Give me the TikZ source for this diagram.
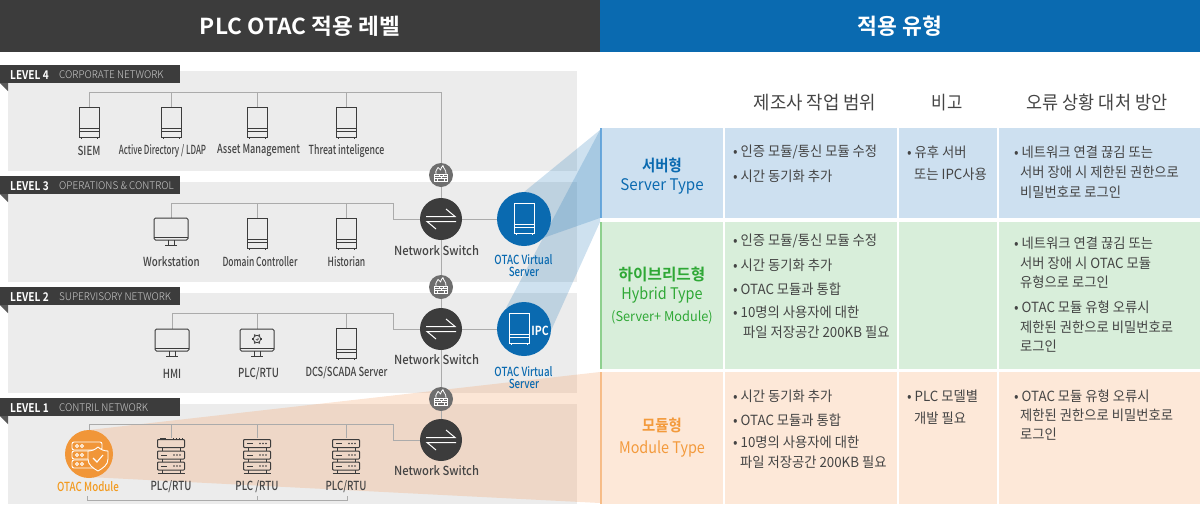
\documentclass[tikz,border=0pt]{standalone}
\usepackage{fontspec}
\usepackage{graphicx}
\newfontfamily\kr[FakeStretch=0.9,BoldFont={Noto Sans CJK KR Bold}]{Noto Sans CJK KR}
\newfontfamily\krc[FakeStretch=0.95]{Noto Sans CJK KR}
\newfontfamily\krh[BoldFont={Noto Sans CJK KR Bold}]{Noto Sans CJK KR}
\newfontfamily\lab[FakeStretch=0.78]{Noto Sans CJK KR Medium}
\newfontfamily\labb[FakeStretch=0.84]{Noto Sans CJK KR Bold}
\newfontfamily\thin[FakeStretch=0.95]{Noto Sans CJK KR Light}
\newcommand\nx[2]{\scalebox{#1}[1]{#2}}
\usetikzlibrary{calc}
\definecolor{dark}{HTML}{3C3C3C}
\definecolor{hblue}{HTML}{0A6AB0}
\definecolor{band}{HTML}{ECECEC}
\definecolor{txt}{HTML}{444444}
\definecolor{pblue}{HTML}{CDE0F0}
\definecolor{pgreen}{HTML}{D8EEDA}
\definecolor{porange}{HTML}{FDE8D8}
\definecolor{barblue}{HTML}{6AA8DC}
\definecolor{bargreen}{HTML}{8ED08E}
\definecolor{barorange}{HTML}{F7BD88}
\definecolor{tgreen}{HTML}{2FA836}
\definecolor{torange}{HTML}{F39A3C}
\definecolor{tmod}{HTML}{F39A1E}
\definecolor{modorange}{HTML}{F19638}
\definecolor{wedgeo}{HTML}{F59A5A}
\definecolor{fwgray}{HTML}{6E6E6E}
\definecolor{linkgray}{HTML}{ABABAB}
\tikzset{
  link/.style={draw=linkgray,line width=.8pt},
  lbl/.style={font=\lab\fontsize{12.5}{14}\selectfont,text=txt,inner sep=0pt,anchor=center,align=center,yshift=-.8pt},
  cell/.style={font=\krc\fontsize{14}{16}\selectfont,text=txt,inner sep=0pt,anchor=west,yshift=-1.3pt},
  headr/.style={font=\kr\fontsize{18.5}{20}\selectfont,text=txt,inner sep=0pt,yshift=-1pt},
  rowh/.style={inner sep=0pt,yshift=-1.3pt},
  ttl/.style={font=\krh\bfseries\fontsize{22}{24}\selectfont,text=white,inner sep=0pt},
  lvl/.style={font=\labb\fontsize{12}{13}\selectfont,text=white,inner sep=0pt,anchor=west},
  lvs/.style={font=\thin\fontsize{10.5}{12}\selectfont,text=black!20,inner sep=0pt,anchor=west},
  band/.style={fill=band,draw=none},
  tag/.style={fill=dark,draw=none},
  ikon/.style={draw=dark,line width=1pt,line join=round},
  pics/serverico/.style={code={
    \draw[#1,line width=1pt] (-10,-16) rectangle (10,14);
    \draw[#1,line width=1pt] (-10,5) -- (10,5) (-10,8) -- (10,8);
    \draw[#1,line width=1pt] (-8,14) -- (-8,16) (8,14) -- (8,16);
  }},
  pics/monitor/.style={code={
    \draw[ikon,rounded corners=1.5pt] (-17,-14) rectangle (17,8);
    \draw[ikon] (-17,5) -- (17,5) (-3,8) -- (-3,13) (3,8) -- (3,13) (-6,13) -- (6,13);
  }},
  pics/rackunit/.style={code={
    \draw[ikon,rounded corners=.8pt] (-13.5,-4) rectangle (13.5,4);
    \draw[ikon] (-10,0) -- (-4,0);
    \foreach \k in {3,6,9}{\fill[dark] (\k,0) circle (.8pt);}
  }},
  pics/rackblank/.style={code={
    \draw[ikon,rounded corners=.8pt] (-13.5,-4) rectangle (13.5,4);
    \draw[ikon,line width=1.2pt] (-11,-5) -- (-5,-5);
    \foreach \k in {2,5,8,11}{\draw[ikon] (\k,-4) -- (\k,-5.5);}
  }},
  pics/racklegs/.style={code={
    \draw[ikon] (-9,-7.5) -- (-9,-4) (9,-7.5) -- (9,-4) (-9,4) -- (-9,7) (9,4) -- (9,7) (-9,15) -- (-9,18) (9,15) -- (9,18) (-13.5,18) -- (13.5,18);
  }},
  pics/rack/.style={code={
    \pic at (0,-11.5) {rackunit};
    \pic at (0,0) {rackunit};
    \pic at (0,11) {rackunit};
    \pic {racklegs};
  }},
  pics/racktop/.style={code={
    \pic at (0,-11.5) {rackblank};
    \pic at (0,0) {rackunit};
    \pic at (0,11) {rackunit};
    \pic {racklegs};
  }},
  pics/swico/.style={code={
    \fill[dark] (0,0) circle (21);
    \draw[white,line width=1pt] (-15,-2.5) -- (14,-2.5) -- (5,-10);
    \draw[white,line width=1pt] (15,2.5) -- (-14,2.5) -- (-5,10);
  }},
  pics/fwico/.style={code={
    \fill[fwgray] (0,0) circle (12);
    \draw[white,line width=.8pt] (-6.5,-1) rectangle (6.5,6);
    \draw[white,line width=.6pt] (-6.5,1.3) -- (6.5,1.3) (-6.5,3.7) -- (6.5,3.7) (-2,-1) -- (-2,1.3) (2.5,-1) -- (2.5,1.3) (0,1.3) -- (0,3.7) (-3.5,3.7) -- (-3.5,6) (3.5,3.7) -- (3.5,6);
    \draw[white,line width=.8pt,line join=round] (-5,-1) .. controls (-6,-5) and (-3.5,-5) .. (-3,-7.5) .. controls (-1.5,-6.5) and (-1,-5.5) .. (-.5,-5) .. controls (0,-7) and (1,-8.5) .. (2,-9.5) .. controls (2,-7) and (5.5,-5) .. (5,-1);
  }},
}
\newcommand\swt[3]{\node[circle,inner sep=0pt,minimum size=42pt] (#1) at (#2,#3) {};}
\newcommand\fwl[3]{\node[circle,inner sep=0pt,minimum size=24pt] (#1) at (#2,#3) {};}
\newcommand\tcell[4]{\node[cell] (#1) at (#2,#3) {#4};}
\begin{document}
\begin{tikzpicture}[x=1pt,y=-1pt]
\useasboundingbox (0,0) rectangle (1200,504);
% headers
\fill[dark] (0,0) rectangle (600,52);
\fill[hblue] (600,0) rectangle (1200,52);
\node[ttl] (t1) at (300,26) {\nx{1.03}{PLC OTAC 적용 레벨}};
\node[ttl] (t2) at (900,26) {\nx{.98}{적용 유형}};
% bands
\foreach \a/\b in {71/171,182/282,293/393,404/504}{\fill[band] (8,\a) rectangle (577,\b);}
% panels
\foreach \c/\l/\r in {pblue/128/218,pgreen/222/369,porange/372/504}{
  \fill[\c] (600,\l) rectangle (723,\r);
  \fill[\c] (724.5,\l) rectangle (897,\r);
  \fill[\c] (898.5,\l) rectangle (997,\r);
  \fill[\c] (998.5,\l) rectangle (1200,\r);
}
\fill[barblue] (600,128) rectangle (602,218);
\fill[bargreen] (600,222) rectangle (602,369);
\fill[barorange] (600,372) rectangle (602,504);
% level tags
\foreach \y/\m/\s in {65/LEVEL 4/CORPORATE NETWORK,176/LEVEL 3/OPERATIONS \& CONTROL,287/LEVEL 2/SUPERVISORY NETWORK,398/LEVEL 1/CONTRIL NETWORK}{
  \fill[tag] (0,\y) rectangle (180,\y+18);
  \fill[black!65] (0,\y+18) -- (8,\y+18) -- (8,\y+26) -- cycle;
  \node[lvl] at (10,\y+10) {\m};
  \node[lvs] at (59,\y+10) {\s};
}
% wedges
\fill[hblue,fill opacity=.2] (600,130) -- (600,218) -- (543,238) -- (524,192) -- cycle;
\fill[hblue,fill opacity=.2] (600,130) -- (600,222) -- (549,335) -- (506,308) -- cycle;
\fill[wedgeo,fill opacity=.25] (600,372) -- (600,503) -- (89,477) -- (89,430) -- cycle;
% anchor nodes
\coordinate (b4) at (441,92);
\coordinate (b3) at (393,203);
\coordinate (b2) at (393,313);
\coordinate (b1) at (393,424);
\coordinate (bb) at (347,500);
\node[inner sep=0pt,minimum width=21pt,minimum height=32pt] (siem) at (89,123) {};
\node[inner sep=0pt,minimum width=21pt,minimum height=32pt] (ad) at (171,123) {};
\node[inner sep=0pt,minimum width=21pt,minimum height=32pt] (am) at (257,123) {};
\node[inner sep=0pt,minimum width=21pt,minimum height=32pt] (ti) at (346,123) {};
\node[inner sep=0pt,minimum width=34pt,minimum height=27pt] (ws) at (171,232) {};
\node[inner sep=0pt,minimum width=21pt,minimum height=32pt] (dc) at (257,234) {};
\node[inner sep=0pt,minimum width=21pt,minimum height=32pt] (hi) at (346,234) {};
\node[inner sep=0pt,minimum width=34pt,minimum height=27pt] (hm) at (172,343) {};
\node[inner sep=0pt,minimum width=34pt,minimum height=27pt] (pl) at (257,343) {};
\node[inner sep=0pt,minimum width=21pt,minimum height=32pt] (ds) at (346,344) {};
\node[circle,inner sep=0pt,minimum size=48pt] (om) at (89,454) {};
\node[inner sep=0pt,minimum width=27pt,minimum height=34pt] (r1) at (171,455) {};
\node[inner sep=0pt,minimum width=27pt,minimum height=34pt] (r2) at (257,455) {};
\node[inner sep=0pt,minimum width=27pt,minimum height=34pt] (r3) at (346,455) {};
\fwl{f3}{441}{175}\fwl{f2}{441}{287}\fwl{f1}{441}{399}
\swt{s3}{441}{219}\swt{s2}{441}{329}\swt{s1}{441}{440}
\node[circle,inner sep=0pt,minimum size=54pt] (v3) at (524,219) {};
\node[circle,inner sep=0pt,minimum size=54pt] (v2) at (524,329) {};
% links
\draw[link] (siem.north) |- (b4) -- (f3);
\foreach \n in {ad,am,ti}{\draw[link] (\n.north) -- (\n.north |- b4);}
\draw[link] (ws.north) |- (b3) |- (s3);
\foreach \n in {dc,hi}{\draw[link] (\n.north) -- (\n.north |- b3);}
\draw[link] (hm.north) |- (b2) |- (s2);
\foreach \n in {pl,ds}{\draw[link] (\n.north) -- (\n.north |- b2);}
\draw[link] (om.north) |- (b1) |- (s1);
\foreach \n in {r1,r2,r3}{\draw[link] (\n.north) -- (\n.north |- b1);}
\draw[link] (f3) -- (s3);
\draw[link] (s3) -- (f2);
\draw[link] (f2) -- (s2);
\draw[link] (s2) -- (f1);
\draw[link] (f1) -- (s1);
\draw[link] (s3) -- (v3);
\draw[link] (s2) -- (v2);
\draw[link] (87,496) |- (bb) -- (347,496);
\draw[link] (257,496) -- (257,500);
% line icons
\foreach \x in {89,171,257,346}{\pic at (\x,123) {serverico={draw=dark}};}
\pic at (171,232) {monitor};
\pic at (257,234) {serverico={draw=dark}};
\pic at (346,234) {serverico={draw=dark}};
\pic at (172,343) {monitor};
\pic at (257,343) {monitor};
\pic at (346,344) {serverico={draw=dark}};
\pic at (171,455) {racktop};
\pic at (257,455) {rack};
\pic at (346,455) {rack};
% circular icons
\pic at (441,175) {fwico};\pic at (441,287) {fwico};\pic at (441,399) {fwico};
\pic at (441,219) {swico};\pic at (441,329) {swico};\pic at (441,440) {swico};
\fill[hblue] (524,219) circle (27);
\fill[hblue] (524,329) circle (27);
\pic at (524,219) {serverico={draw=white}};
\pic at (519,329) {serverico={draw=white}};
\node[font=\labb\fontsize{12.5}{14}\selectfont,text=white,inner sep=0pt] (ipc) at (540,331) {IPC};
% gear
\begin{scope}[shift={(257,339)}]
\draw[dark,line width=.8pt] (0,0) circle (3.7);
\foreach \a in {0,60,...,300}{\draw[dark,line width=1.4pt] (\a:3.7) -- (\a:5.2);}
\draw[dark,line width=.6pt] (-1.2,0) arc (180:-60:1.3);
\end{scope}
% OTAC module
\fill[modorange] (89,454) circle (24);
\begin{scope}[draw=white,line width=.9pt]
\draw[rounded corners=2pt] (72,442) rectangle (102,450);
\draw[rounded corners=2pt] (72,451) rectangle (102,459);
\draw[rounded corners=2pt] (72,460) rectangle (102,468);
\foreach \y in {446,455,464}{\draw (77,\y) circle (1.5);\draw (82,\y) circle (1.5);}
\draw[fill=modorange,line join=round] (98,447) .. controls (101,450) and (105,451) .. (108,451) -- (108,459) .. controls (108,465) and (103,468) .. (98,471) .. controls (93,468) and (88,465) .. (88,459) -- (88,451) .. controls (91,451) and (95,450) .. (98,447) -- cycle;
\draw[line width=1.1pt] (93,458) -- (97,462) -- (103,455);
\end{scope}
% labels
\node[lbl] (l1) at (89,150) {SIEM};
\node[lbl] (l2) at (162.500,150) {\nx{.82}{Active Directory / LDAP}};
\node[lbl] (l3) at (258.500,150) {\nx{.94}{Asset Management}};
\node[lbl] (l4) at (346.500,150) {\nx{.90}{Threat inteligence}};
\node[lbl] (l5) at (171.500,261) {Workstation};
\node[lbl] (l6) at (260,261) {\nx{.87}{Domain Controller}};
\node[lbl] (l7) at (346.500,261) {\nx{.88}{Historian}};
\node[lbl] (l8) at (172,373) {HMI};
\node[lbl] (l9) at (258.500,373) {PLC/RTU};
\node[lbl] (l10) at (346.500,372) {\nx{.95}{DCS/SCADA Server}};
\node[lbl,text=tmod] (l11) at (88,486) {OTAC Module};
\node[lbl] (l12) at (171,486) {PLC/RTU};
\node[lbl] (l13) at (257,486) {PLC /RTU};
\node[lbl] (l14) at (346,486) {PLC/RTU};
\node[lbl] (l15) at (436.500,249.500) {\nx{1.15}{Network Switch}};
\node[lbl] (l16) at (436.500,359) {\nx{1.15}{Network Switch}};
\node[lbl] (l17) at (436.500,470) {\nx{1.15}{Network Switch}};
\node[lbl,text=hblue] (l18) at (523.500,259) {OTAC Virtual};
\node[lbl,text=hblue] (l19) at (524,271) {Server};
\node[lbl,text=hblue] (l20) at (523.500,371) {OTAC Virtual};
\node[lbl,text=hblue] (l21) at (524,383) {Server};
% column heads
\node[headr] (h1) at (815,102) {\nx{1.07}{제조사 작업 범위}};
\node[headr] (h2) at (947,102) {비고};
\node[headr] (h3) at (1097,102) {\nx{1.05}{오류 상황 대처 방안}};
% row heads
\node[rowh,text=hblue,font=\kr\bfseries\fontsize{16}{18}\selectfont] (a1) at (662,164) {서버형};
\node[rowh,text=hblue,font=\kr\fontsize{16}{18}\selectfont] (a2) at (662,185) {\nx{1.05}{Server Type}};
\node[rowh,text=tgreen,font=\kr\bfseries\fontsize{16}{18}\selectfont] (b1t) at (662,273) {\nx{1.09}{하이브리드형}};
\node[rowh,text=tgreen,font=\kr\fontsize{16}{18}\selectfont] (b2t) at (662,294) {Hybrid Type};
\node[rowh,text=tgreen,font=\kr\fontsize{13.5}{15}\selectfont] (b3t) at (662,316) {\nx{1.05}{(Server+ Module)}};
\node[rowh,text=torange,font=\kr\bfseries\fontsize{16}{18}\selectfont] (c1t) at (662,424) {모듈형};
\node[rowh,text=torange,font=\kr\fontsize{16}{18}\selectfont] (c2t) at (662,448) {Module Type};
% cells row 1
\tcell{p1}{733}{151}{• 인증 모듈/통신 모듈 수정}
\tcell{p2}{733}{175}{• 시간 동기화 추가}
\tcell{p3}{907}{151}{• 유후 서버}
\tcell{p4}{914}{173}{또는 IPC사용}
\tcell{p5}{1014}{151}{• 네트워크 연결 끊김 또는}
\tcell{p6}{1020}{171}{서버 장애 시 제한된 권한으로}
\tcell{p7}{1020}{191}{비밀번호로 로그인}
% row 2
\tcell{q1}{733}{240}{• 인증 모듈/통신 모듈 수정}
\tcell{q2}{733}{264}{• 시간 동기화 추가}
\tcell{q3}{733}{288}{• OTAC 모듈과 통합}
\tcell{q4}{733}{311}{• 10명의 사용자에 대한}
\tcell{q5}{743}{331}{파일 저장공간 200KB 필요}
\tcell{q6}{1014}{242}{• 네트워크 연결 끊김 또는}
\tcell{q7}{1020}{262}{서버 장애 시 OTAC 모듈}
\tcell{q8}{1020}{281}{유형으로 로그인}
\tcell{q9}{1014}{306}{• OTAC 모듈 유형 오류시}
\tcell{q10}{1020}{326}{제한된 권한으로 비밀번호로}
\tcell{q11}{1020}{345}{로그인}
% row 3
\tcell{u1}{733}{395}{• 시간 동기화 추가}
\tcell{u2}{733}{419}{• OTAC 모듈과 통합}
\tcell{u3}{733}{441}{• 10명의 사용자에 대한}
\tcell{u4}{740}{461}{파일 저장공간 200KB 필요}
\tcell{u5}{907}{395}{• PLC 모델별}
\tcell{u6}{914}{417}{개발 필요}
\tcell{u7}{1014}{395}{• OTAC 모듈 유형 오류시}
\tcell{u8}{1020}{414}{제한된 권한으로 비밀번호로}
\tcell{u9}{1020}{433}{로그인}
\end{tikzpicture}
\end{document}
